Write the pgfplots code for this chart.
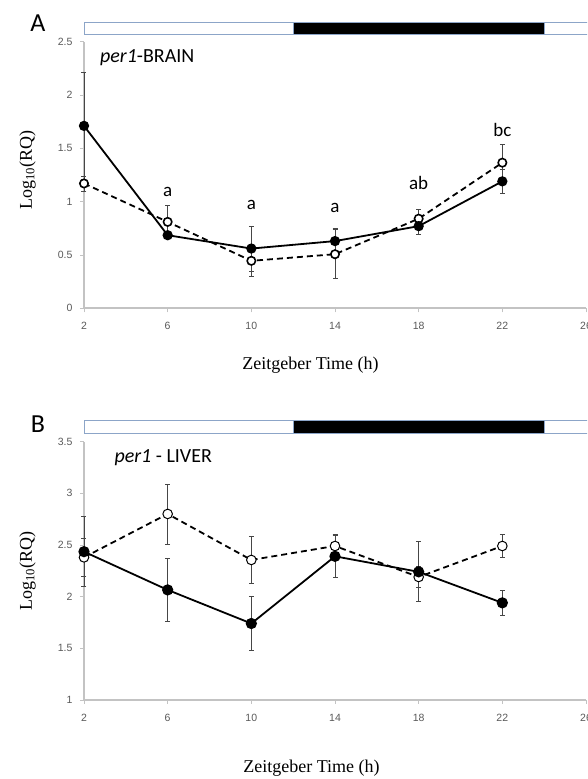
\documentclass[border=0pt]{standalone}
\usepackage{fontspec}
\setmainfont{Liberation Serif}
\newfontfamily\calibri{Carlito}
\newfontfamily\tickfont{Liberation Sans}
\usepackage{pgfplots}
\usepackage{pgfplotstable}
\pgfplotsset{compat=1.18}
\definecolor{axgray}{RGB}{195,195,195}
\definecolor{tickgray}{RGB}{89,89,89}
\definecolor{errgray}{RGB}{70,70,70}
\definecolor{barblue}{RGB}{140,165,200}

\pgfplotstableread{
x filled ferr open oerr
2 1.71 0.50 1.17 0.07
6 0.685 0.03 0.81 0.15
10 0.56 0.21 0.445 0.15
14 0.63 0.12 0.507 0.23
18 0.77 0.08 0.84 0.085
22 1.19 0.115 1.365 0.175
}\brain
\pgfplotstableread{
x filled ferr open oerr
2 2.435 0.34 2.38 0.18
6 2.065 0.305 2.80 0.29
10 1.74 0.26 2.355 0.225
14 2.39 0.20 2.49 0.11
18 2.24 0.29 2.19 0.10
22 1.94 0.12 2.49 0.11
}\liver

\pgfplotsset{
  panel/.style={
    scale only axis, width=502pt,
    axis lines=left, axis line style={axgray, line width=1.6pt, -},
    xmin=2, xmax=26, xtick={2,6,...,26},
    tick align=outside, major tick length=4pt,
    tick style={axgray, line width=0.8pt},
    ticklabel style={font=\tickfont\fontsize{10.5}{12}\selectfont, text=tickgray},
    /pgf/number format/assume math mode=true,
    xticklabel style={anchor=center, yshift=-14pt},
    yticklabel style={anchor=east, xshift=-4pt},
    clip=false,
  },
  errs/.style={error bars/.cd, y dir=both, y explicit,
    error bar style={errgray, line width=0.8pt, solid},
    error mark options={rotate=90, mark size=2.5pt, errgray, line width=0.8pt, solid}},
}

\begin{document}
\begin{tikzpicture}
\useasboundingbox (0,0) rectangle (587pt,779pt);
\clip (0,0) rectangle (587pt,779pt);

% ---------- Panel A ----------
\begin{axis}[panel, at={(84pt,470.7pt)}, anchor=south west, height=266.7pt,
  ymin=0, ymax=2.5, ytick={0,0.5,...,2.5}]
\draw[barblue, line width=0.8pt, fill=white] (axis cs:2,2.571) rectangle (axis cs:12,2.683);
\draw[barblue, line width=0.8pt, fill=black] (axis cs:12,2.571) rectangle (axis cs:24,2.683);
\draw[barblue, line width=0.8pt, fill=white] (axis cs:24,2.571) rectangle (axis cs:27,2.683);
\addplot[black, line width=1.8pt, dash pattern=on 6pt off 4pt, mark=*, mark size=4.2pt,
  mark options={solid, fill=white, line width=1.6pt}, errs]
  table[x=x, y=open, y error=oerr] {\brain};
\addplot[black, line width=1.8pt, mark=*, mark size=4.2pt, mark options={solid}, errs]
  table[x=x, y=filled, y error=ferr] {\brain};
\node[anchor=west, font=\calibri\fontsize{20}{22}\selectfont] at (axis cs:2.6,2.346) {\textit{per1}-BRAIN};
\node[anchor=base, font=\calibri\fontsize{19}{21}\selectfont] at (axis cs:6,1.05) {a};
\node[anchor=base, font=\calibri\fontsize{19}{21}\selectfont] at (axis cs:10,0.93) {a};
\node[anchor=base, font=\calibri\fontsize{19}{21}\selectfont] at (axis cs:14,0.897) {a};
\node[anchor=base, font=\calibri\fontsize{19}{21}\selectfont] at (axis cs:18,1.114) {ab};
\node[anchor=base, font=\calibri\fontsize{19}{21}\selectfont] at (axis cs:22,1.614) {bc};
\end{axis}

% ---------- Panel B ----------
\begin{axis}[panel, at={(84pt,79pt)}, anchor=south west, height=258.4pt,
  ymin=1, ymax=3.5, ytick={1,1.5,...,3.5}]
\draw[barblue, line width=0.8pt, fill=white] (axis cs:2,3.583) rectangle (axis cs:12,3.709);
\draw[barblue, line width=0.8pt, fill=black] (axis cs:12,3.583) rectangle (axis cs:24,3.709);
\draw[barblue, line width=0.8pt, fill=white] (axis cs:24,3.583) rectangle (axis cs:27,3.709);
\addplot[black, line width=1.8pt, dash pattern=on 6pt off 4pt, mark=*, mark size=4.8pt,
  mark options={solid, fill=white, line width=1pt}, errs]
  table[x=x, y=open, y error=oerr] {\liver};
\addplot[black, line width=1.8pt, mark=*, mark size=4.7pt, mark options={solid}, errs]
  table[x=x, y=filled, y error=ferr] {\liver};
\node[anchor=west, font=\calibri\fontsize{20}{22}\selectfont] at (axis cs:3.29,3.341) {\textit{per1} - LIVER};
\end{axis}

% ---------- labels ----------
\node[font=\fontsize{18}{20}\selectfont] at (310.5pt,414pt) {Zeitgeber Time (h)};
\node[font=\fontsize{18}{20}\selectfont, rotate=90] at (27.5pt,609pt) {Log\textsubscript{10}(RQ)};
\node[font=\fontsize{18}{20}\selectfont] at (311.5pt,11pt) {Zeitgeber Time (h)};
\node[font=\fontsize{18}{20}\selectfont, rotate=90] at (27.5pt,208pt) {Log\textsubscript{10}(RQ)};
\node[font=\calibri\fontsize{26}{28}\selectfont] at (38pt,756pt) {A};
\node[font=\calibri\fontsize{26}{28}\selectfont] at (38pt,355pt) {B};
\end{tikzpicture}
\end{document}
